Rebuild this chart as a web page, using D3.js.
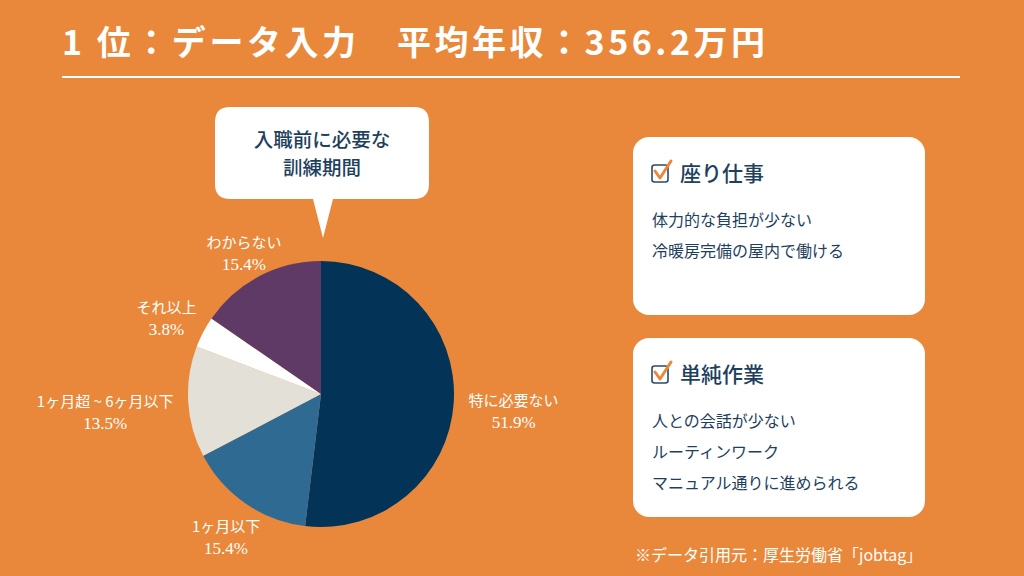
<!DOCTYPE html>
<html>
<head>
<meta charset="utf-8">
<title>データ入力 訓練期間</title>
<script src="https://d3js.org/d3.v7.min.js"></script>
<style>
  html, body { margin: 0; padding: 0; background: #E9883A; }
  svg { display: block; }
  text { font-family: "Noto Sans CJK JP", "Noto Sans", sans-serif; }
  .pct { font-family: "Liberation Serif", "DejaVu Serif", serif; }
</style>
</head>
<body>
<svg width="1024" height="576"></svg>
<script>
// データ
const categories = ["特に必要ない", "1ヶ月以下", "1ヶ月超 ~ 6ヶ月以下", "それ以上", "わからない"];
const shares = [51.9, 15.4, 13.5, 3.8, 15.4];
const sliceColors = ["#033356", "#2e6a92", "#e3e1d7", "#ffffff", "#5f3a67"];

const titleText = "1 位：データ入力　平均年収：356.2万円";
const bubbleLines = ["入職前に必要な", "訓練期間"];
const cards = [
  { head: "座り仕事", items: ["体力的な負担が少ない", "冷暖房完備の屋内で働ける"] },
  { head: "単純作業", items: ["人との会話が少ない", "ルーティンワーク", "マニュアル通りに進められる"] }
];
const sourceText = "※データ引用元：厚生労働省「jobtag」";

const navy = "#1e3f5e";
const svg = d3.select("svg");

// 背景
svg.append("rect").attr("width", 1024).attr("height", 576).attr("fill", "#E9883A");

// タイトル
svg.append("text")
  .attr("x", 62).attr("y", 55)
  .attr("fill", "#fff")
  .attr("font-size", 34)
  .attr("font-weight", 700)
  .attr("textLength", 703)
  .attr("lengthAdjust", "spacing")
  .text(titleText);

svg.append("line")
  .attr("x1", 62).attr("x2", 960)
  .attr("y1", 77).attr("y2", 77)
  .attr("stroke", "#fff").attr("stroke-width", 2);

// 吹き出し
const bubble = svg.append("g");
bubble.append("path")
  .attr("d", "M230,107 H414 Q429,107 429,122 V184 Q429,199 414,199 H333 L323,238 L313,199 H230 Q215,199 215,184 V122 Q215,107 230,107 Z")
  .attr("fill", "#fff");
bubble.selectAll("text")
  .data(bubbleLines)
  .enter().append("text")
  .attr("x", 322)
  .attr("y", (d, i) => 147 + i * 28)
  .attr("text-anchor", "middle")
  .attr("fill", navy)
  .attr("font-size", 19.5)
  .attr("font-weight", 500)
  .text(d => d);

// 円グラフ
const cx = 321, cy = 394, radius = 133;
const pieData = d3.pie().sort(null).value(d => d)(shares);
const arc = d3.arc().innerRadius(0).outerRadius(radius);

const pieG = svg.append("g").attr("transform", `translate(${cx},${cy})`);
pieG.selectAll("path")
  .data(pieData)
  .enter().append("path")
  .attr("d", arc)
  .attr("fill", (d, i) => sliceColors[i]);

// ラベル
const labels = pieG.selectAll("g.lbl")
  .data(pieData)
  .enter().append("g")
  .attr("class", "lbl");

labels.append("text")
  .attr("class", "name")
  .attr("text-anchor", "middle")
  .attr("fill", "#fff")
  .attr("font-size", 15)
  .attr("y", -4)
  .text((d, i) => categories[i]);

labels.append("text")
  .attr("class", "pct")
  .attr("text-anchor", "middle")
  .attr("fill", "#fff")
  .attr("font-size", 17)
  .attr("y", 18)
  .text(d => d.value.toFixed(1) + "%");

labels.each(function(d) {
  const g = d3.select(this);
  const w = g.select("text.name").node().getComputedTextLength();
  const a = (d.startAngle + d.endAngle) / 2;
  const r = 148 + (w / 2) * Math.abs(Math.sin(a));
  g.attr("transform", `translate(${r * Math.sin(a)},${-r * Math.cos(a) + 4})`);
});

// カード
const cardTop = [137, 338];
const cardH = [178, 179];
cards.forEach((c, k) => {
  const g = svg.append("g").attr("transform", `translate(633,${cardTop[k]})`);
  g.append("rect")
    .attr("width", 292).attr("height", cardH[k])
    .attr("rx", 16).attr("ry", 16)
    .attr("fill", "#fff");

  // チェックボックス
  g.append("rect")
    .attr("x", 19).attr("y", 28).attr("width", 16).attr("height", 17)
    .attr("rx", 2.5)
    .attr("fill", "none").attr("stroke", "#2b4a6a").attr("stroke-width", 1.6);
  g.append("path")
    .attr("d", "M22,34 L27,41 L38,24")
    .attr("fill", "none").attr("stroke", "#E9883A")
    .attr("stroke-width", 3).attr("stroke-linecap", "round").attr("stroke-linejoin", "round");

  g.append("text")
    .attr("x", 47).attr("y", 44)
    .attr("fill", navy)
    .attr("font-size", 21)
    .attr("font-weight", 500)
    .text(c.head);

  g.selectAll("text.item")
    .data(c.items)
    .enter().append("text")
    .attr("class", "item")
    .attr("x", 19)
    .attr("y", (d, i) => 89 + i * 31)
    .attr("fill", navy)
    .attr("font-size", 16)
    .text(d => d);
});

// 出典
svg.append("text")
  .attr("x", 635).attr("y", 561)
  .attr("fill", "#fff")
  .attr("font-size", 16)
  .text(sourceText);
</script>
</body>
</html>
